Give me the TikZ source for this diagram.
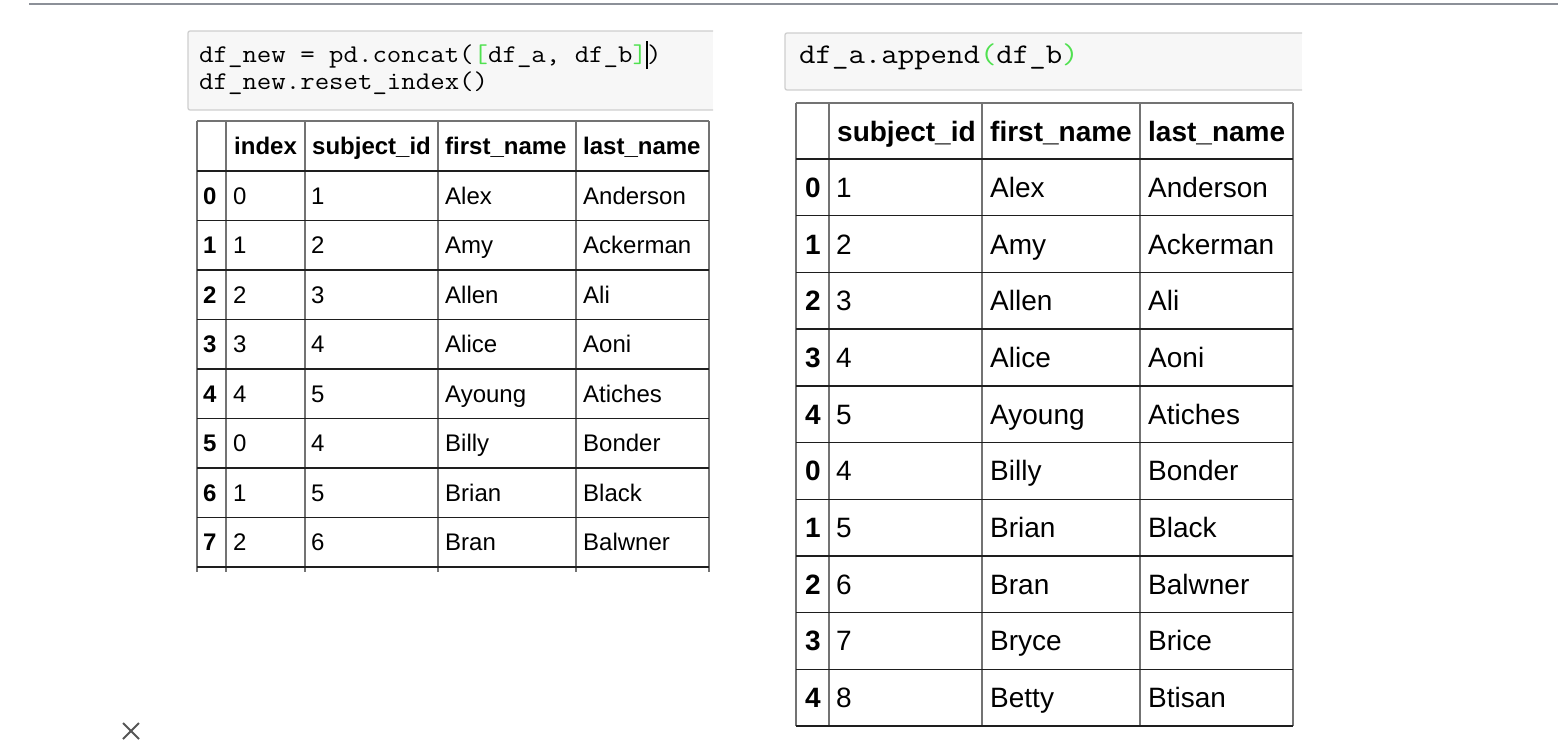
\documentclass[tikz,border=0pt]{standalone}
\usepackage{fontspec}
\setmainfont{Liberation Sans}
\definecolor{codegreen}{RGB}{80,225,80}
\definecolor{vline}{RGB}{115,115,115}
\definecolor{hline}{RGB}{30,30,30}
\definecolor{cellbg}{RGB}{247,247,247}
\definecolor{cellborder}{RGB}{207,207,207}
\definecolor{rulec}{RGB}{140,144,152}
\definecolor{xmark}{RGB}{85,85,85}
\tikzset{
  ltxt/.style={anchor=base west, inner sep=0pt, font=\fontsize{24}{28}\selectfont},
  lhead/.style={anchor=base west, inner sep=0pt, font=\fontsize{24}{28}\selectfont\bfseries},
  rtxt/.style={anchor=base west, inner sep=0pt, font=\fontsize{28}{32}\selectfont},
  rhead/.style={anchor=base west, inner sep=0pt, font=\fontsize{28}{32}\selectfont\bfseries},
  codetxt/.style={anchor=base west, inner sep=0pt},
  vrule/.style={draw=vline, line width=1.4pt},
  hrule/.style={draw=hline, line width=1.4pt},
  cellbox/.style={draw=cellborder, line width=1.3pt, rounded corners=2pt},
}
\begin{document}
\begin{tikzpicture}[x=1pt,y=-1pt]
\useasboundingbox (0,0) rectangle (1558,744);
\fill[white] (0,0) rectangle (1558,744);
\draw[rulec, line width=2.2pt] (29,4) -- (1558,4);

% left code cell
\fill[cellbg] (188,31) rectangle (713,110);
\draw[cellbox] (713,31) -- (188,31) -- (188,110) -- (713,110);
\node[codetxt] (lc1) at (199,62) {\scalebox{1.1}[1]{\fontsize{25.5}{28}\selectfont\ttfamily df\_new = pd.concat(\textcolor{codegreen}{[}df\_a, df\_b\textcolor{codegreen}{]}\makebox[0pt]{\rule[-7pt]{1.3pt}{28pt}})}};
\node[codetxt] (lc2) at (199,89) {\scalebox{1.1}[1]{\fontsize{25.5}{28}\selectfont\ttfamily df\_new.reset\_index()}};

% right code cell
\fill[cellbg] (785,33) rectangle (1302,90);
\draw[cellbox] (1302,33) -- (785,33) -- (785,90) -- (1302,90);
\node[codetxt] (rc1) at (799,63.5) {\scalebox{1.12}[1]{\fontsize{28.5}{32}\selectfont\ttfamily df\_a.append\textcolor{codegreen}{(}df\_b\textcolor{codegreen}{)}}};

% left table grid
\foreach \x in {197,226,305,438,576,709} \draw[vrule] (\x,121) -- (\x,572);
\draw[vrule] (197,121) -- (709,121);
\foreach \i in {0,...,8} \draw[hrule] (197,{171+49.5*\i}) -- (709,{171+49.5*\i});

% left table header
\node[lhead] (Lh1) at (234,154.6) {index};
\node[lhead] (Lh2) at (312,154.6) {subject\_id};
\node[lhead] (Lh3) at (445,154.6) {first\_name};
\node[lhead] (Lh4) at (583,154.6) {last\_name};

% left table rows
\foreach \lab/\a/\b/\c/\d [count=\i from 0] in {0/0/1/Alex/Anderson,1/1/2/Amy/Ackerman,2/2/3/Allen/Ali,3/3/4/Alice/Aoni,4/4/5/Ayoung/Atiches,5/0/4/Billy/Bonder,6/1/5/Brian/Black,7/2/6/Bran/Balwner}{
  \node[lhead] (L\i-lab) at (203,{204.35+49.5*\i}) {\lab};
  \node[ltxt] (L\i-a) at (233,{204.35+49.5*\i}) {\a};
  \node[ltxt] (L\i-b) at (311,{204.35+49.5*\i}) {\b};
  \node[ltxt] (L\i-c) at (445,{204.35+49.5*\i}) {\c};
  \node[ltxt] (L\i-d) at (583,{204.35+49.5*\i}) {\d};
}

% right table grid
\foreach \x in {796,829,982,1140,1293} \draw[vrule] (\x,103) -- (\x,726);
\draw[vrule] (796,103) -- (1293,103);
\foreach \i in {0,...,10} \draw[hrule] (796,{159+56.7*\i}) -- (1293,{159+56.7*\i});

% right table header
\node[rhead] (Rh1) at (837,141) {subject\_id};
\node[rhead] (Rh2) at (990,141) {first\_name};
\node[rhead] (Rh3) at (1148,141) {last\_name};

% right table rows
\foreach \lab/\b/\c/\d [count=\i from 0] in {0/1/Alex/Anderson,1/2/Amy/Ackerman,2/3/Allen/Ali,3/4/Alice/Aoni,4/5/Ayoung/Atiches,0/4/Billy/Bonder,1/5/Brian/Black,2/6/Bran/Balwner,3/7/Bryce/Brice,4/8/Betty/Btisan}{
  \node[rhead] (R\i-lab) at (805,{197.35+56.7*\i}) {\lab};
  \node[rtxt] (R\i-b) at (836,{197.35+56.7*\i}) {\b};
  \node[rtxt] (R\i-c) at (990,{197.35+56.7*\i}) {\c};
  \node[rtxt] (R\i-d) at (1148,{197.35+56.7*\i}) {\d};
}

% close mark
\draw[xmark, line width=1.8pt] (123,723) -- (139,739);
\draw[xmark, line width=1.8pt] (123,739) -- (139,723);
\end{tikzpicture}
\end{document}
